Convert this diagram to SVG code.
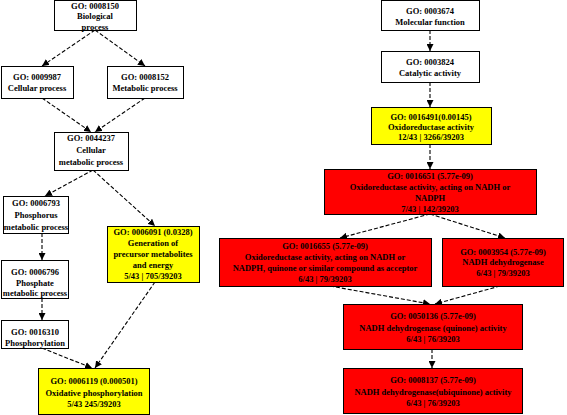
<svg xmlns="http://www.w3.org/2000/svg" width="567" height="415" viewBox="0 0 567 415">
<style>
.box{stroke:#000;stroke-width:1}
.w{fill:#fff}
.y{fill:#ffff00}
.r{fill:#ff0000}
text{font-family:"Liberation Serif","Times New Roman",serif;font-size:8.5px;font-weight:bold;fill:#000;text-anchor:middle}
.e{fill:none;stroke:#000;stroke-width:1.1;stroke-dasharray:4,2;marker-end:url(#ah)}
</style>
<defs>
<marker id="ah" markerUnits="userSpaceOnUse" markerWidth="8" markerHeight="7" refX="7" refY="3.5" orient="auto">
<path d="M0,0 L7,3.5 L0,7 z" fill="#000"/>
</marker>
</defs>
<rect width="567" height="415" fill="#fff"/>
<g id="edges">
<line class="e" x1="95" y1="30" x2="42" y2="66"/>
<line class="e" x1="95" y1="30" x2="145" y2="66"/>
<line class="e" x1="42" y1="98" x2="91" y2="132"/>
<line class="e" x1="145" y1="98" x2="95" y2="132"/>
<line class="e" x1="93" y1="170" x2="45" y2="196"/>
<line class="e" x1="93" y1="170" x2="155" y2="226"/>
<line class="e" x1="42" y1="233" x2="42" y2="260"/>
<line class="e" x1="42" y1="298" x2="42" y2="320"/>
<line class="e" x1="42" y1="348" x2="92" y2="368"/>
<line class="e" x1="155" y1="282" x2="95" y2="368"/>
<line class="e" x1="430" y1="30" x2="430" y2="51"/>
<line class="e" x1="430" y1="82" x2="430" y2="107"/>
<line class="e" x1="430" y1="144" x2="430" y2="169"/>
<line class="e" x1="430" y1="214" x2="340" y2="238"/>
<line class="e" x1="430" y1="214" x2="505" y2="238"/>
<line class="e" x1="330" y1="286" x2="430" y2="304"/>
<line class="e" x1="500" y1="286" x2="435" y2="304"/>
<line class="e" x1="432" y1="349" x2="432" y2="368"/>
</g>
<g id="n0008150"><rect class="box w" x="54.5" y="0.5" width="82" height="30"/><text x="95" y="8.5">GO: 0008150</text><text x="95" y="19">Biological</text><text x="95" y="29.5">process</text></g>
<g id="n0009987"><rect class="box w" x="1.5" y="66.5" width="72" height="32"/><text x="37" y="80">GO: 0009987</text><text x="37" y="91">Cellular process</text></g>
<g id="n0008152"><rect class="box w" x="107.5" y="66.5" width="76" height="32"/><text x="145" y="80">GO: 0008152</text><text x="145" y="91">Metabolic process</text></g>
<g id="n0044237"><rect class="box w" x="54.5" y="132.5" width="74" height="38"/><text x="91" y="141">GO: 0044237</text><text x="91" y="153">Cellular</text><text x="91" y="165">metabolic process</text></g>
<g id="n0006793"><rect class="box w" x="3.5" y="196.5" width="65" height="37"/><text x="36" y="206">GO: 0006793</text><text x="36" y="218">Phosphorus</text><text x="36" y="230">metabolic process</text></g>
<g id="n0006091"><rect class="box y" x="107.5" y="226.5" width="92" height="56"/><text x="153" y="235">GO: 0006091 (0.0328)</text><text x="153" y="246">Generation of</text><text x="153" y="257">precursor metabolites</text><text x="153" y="268">and energy</text><text x="153" y="279">5/43 | 705/39203</text></g>
<g id="n0006796"><rect class="box w" x="1.5" y="260.5" width="67" height="38"/><text x="35" y="275">GO: 0006796</text><text x="35" y="286">Phosphate</text><text x="35" y="296">metabolic process</text></g>
<g id="n0016310"><rect class="box w" x="1.5" y="320.5" width="67" height="28"/><text x="35" y="335">GO: 0016310</text><text x="35" y="346">Phosphorylation</text></g>
<g id="n0006119"><rect class="box y" x="38.5" y="368.5" width="111" height="46"/><text x="94" y="384">GO: 0006119 (0.000501)</text><text x="94" y="396">Oxidative phosphorylation</text><text x="94" y="407">5/43 245/39203</text></g>
<g id="n0003674"><rect class="box w" x="381.5" y="0.5" width="98" height="30"/><text x="430" y="14">GO: 0003674</text><text x="430" y="25">Molecular function</text></g>
<g id="n0003824"><rect class="box w" x="381.5" y="51.5" width="98" height="31"/><text x="430" y="65">GO: 0003824</text><text x="430" y="76">Catalytic activity</text></g>
<g id="n0016491"><rect class="box y" x="371.5" y="107.5" width="120" height="37"/><text x="431" y="120">GO: 0016491(0.00145)</text><text x="431" y="130">Oxidoreductase activity</text><text x="431" y="140">12/43 | 3266/39203</text></g>
<g id="n0016651"><rect class="box r" x="324.5" y="169.5" width="212" height="45"/><text x="430" y="179">GO: 0016651 (5.77e-09)</text><text x="430" y="190">Oxidoreductase activity, acting on NADH or</text><text x="430" y="201">NADPH</text><text x="430" y="212">7/43 | 142/39203</text></g>
<g id="n0016655"><rect class="box r" x="219.5" y="238.5" width="212" height="48"/><text x="325" y="249">GO: 0016655 (5.77e-09)</text><text x="325" y="260">Oxidoreductase activity, acting on NADH or</text><text x="325" y="271">NADPH, quinone or similar compound as acceptor</text><text x="325" y="282">6/43 | 79/39203</text></g>
<g id="n0003954"><rect class="box r" x="442.5" y="238.5" width="121" height="48"/><text x="503" y="255">GO: 0003954 (5.77e-09)</text><text x="503" y="265">NADH dehydrogenase</text><text x="503" y="276">6/43 | 79/39203</text></g>
<g id="n0050136"><rect class="box r" x="343.5" y="304.5" width="179" height="45"/><text x="433" y="319">GO: 0050136 (5.77e-09)</text><text x="433" y="331">NADH dehydrogenase (quinone) activity</text><text x="433" y="342">6/43 | 76/39203</text></g>
<g id="n0008137"><rect class="box r" x="343.5" y="368.5" width="179" height="45"/><text x="433" y="383">GO: 0008137 (5.77e-09)</text><text x="433" y="395">NADH dehydrogenase(ubiquinone) activity</text><text x="433" y="406">6/43 | 76/39203</text></g>
</svg>
